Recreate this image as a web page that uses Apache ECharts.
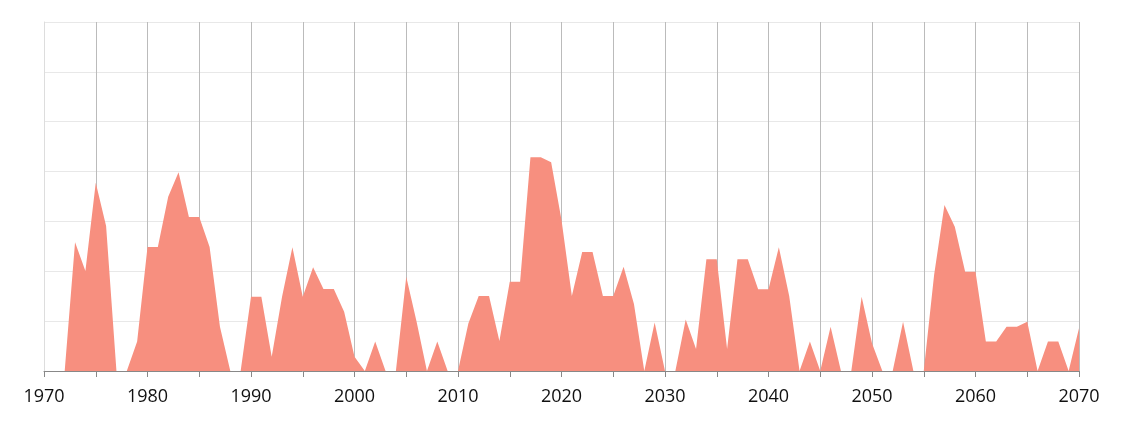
<!DOCTYPE html>
<html>
<head>
<meta charset="utf-8">
<script src="https://cdn.jsdelivr.net/npm/echarts@6/dist/echarts.min.js"></script>
<style>
  html, body { margin: 0; padding: 0; background: #fff; }
  #main { width: 1124px; height: 423px; }
</style>
</head>
<body>
<div id="main"></div>
<script>
// years 1970..2070
var startYear = 1970;
var values = [
  0, 0, 0, 51.6, 40.1, 75.5, 58.2, 0, 0, 11.8,        // 1970-1979
  49.7, 49.7, 69.9, 79.7, 61.8, 61.8, 49.7, 17.8, 0, 0, // 1980-1989
  29.8, 29.8, 5.7, 29.8, 49.6, 29.8, 41.6, 32.9, 32.9, 23.8, // 1990-1999
  5.7, 0, 11.8, 0, 0, 37.8, 19.8, 0, 11.8, 0,           // 2000-2009
  0, 19.1, 30.1, 30.1, 12.0, 35.8, 35.8, 85.7, 85.7, 83.7, // 2010-2019
  60.6, 30.1, 47.7, 47.7, 30.1, 30.1, 41.8, 26.9, 0, 19.5, // 2020-2029
  0, 0, 20.7, 8.8, 44.8, 44.8, 8.8, 44.8, 44.8, 32.8,   // 2030-2039
  32.8, 49.6, 30.1, 0, 11.8, 0, 17.8, 0, 0, 29.8,       // 2040-2049
  11.1, 0, 0, 19.8, 0, 0, 38.5, 66.6, 57.9, 39.8,       // 2050-2059
  39.8, 11.8, 11.8, 17.8, 17.8, 19.8, 0, 11.8, 11.8, 0, // 2060-2069
  17.1                                                  // 2070
];
var yMax = 140;
var yStep = 20;

var chart = echarts.init(document.getElementById('main'));
var seriesData = values.map(function (v, i) { return [startYear + i, v]; });

var option = {
  animation: false,
  grid: { left: 44, right: 45, top: 22, bottom: 52 },
  xAxis: {
    type: 'value',
    min: 1970,
    max: 2070,
    interval: 5,
    axisLine: { show: true, lineStyle: { color: '#888', width: 1 } },
    axisTick: { show: true, length: 6, lineStyle: { color: '#888' } },
    axisLabel: {
      margin: 17,
      fontSize: 18,
      fontFamily: 'Open Sans',
      color: '#111',
      formatter: function (v) { return v % 10 === 0 ? String(v) : ''; }
    },
    splitLine: { show: true, showMinLine: false, lineStyle: { color: '#bbb', width: 1 } }
  },
  yAxis: {
    type: 'value',
    min: 0,
    max: yMax,
    interval: yStep,
    axisLine: { show: true, lineStyle: { color: '#ddd' } },
    axisTick: { show: false },
    axisLabel: { show: false },
    splitLine: { show: true, lineStyle: { color: '#e8e8e8' } }
  },
  series: [{
    type: 'line',
    data: seriesData,
    symbol: 'none',
    lineStyle: { width: 0 },
    areaStyle: { color: '#f78f7f', opacity: 1 },
    z: 1
  }]
};
chart.setOption(option);
</script>
</body>
</html>
